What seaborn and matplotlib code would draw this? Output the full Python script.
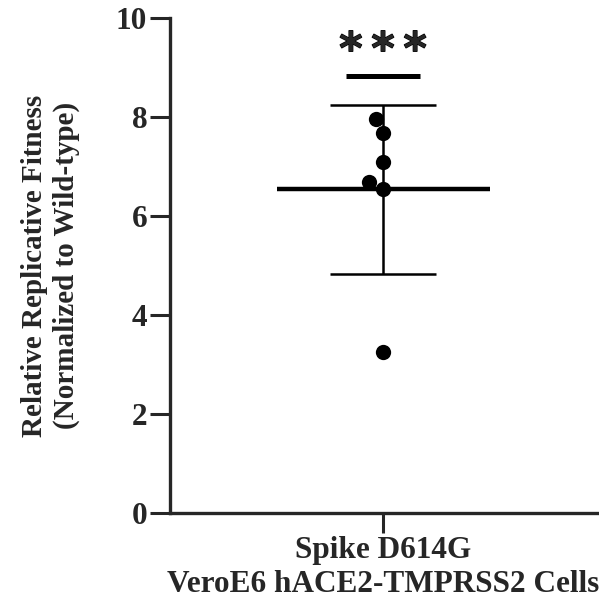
import numpy as np
import pandas as pd
import matplotlib
matplotlib.use("Agg")
import matplotlib.pyplot as plt
import matplotlib.patheffects as pe
import seaborn as sns

# ---- data ----
group_label = "Spike D614G\nVeroE6 hACE2-TMPRSS2 Cells"
fitness = [3.25, 6.55, 6.69, 7.09, 7.68, 7.96]
y_ticks = [0, 2, 4, 6, 8, 10]
sig_text = "*\u2009*\u2009*"
y_label = "Relative Replicative Fitness\n(Normalized to Wild-type)"

df = pd.DataFrame({"group": [group_label] * len(fitness), "fitness": fitness})

sns.set_style("ticks")
plt.rcParams["font.family"] = ["Liberation Serif", "DejaVu Serif"]
plt.rcParams["font.weight"] = "bold"

fig = plt.figure(figsize=(5.99, 6.08), dpi=100)
ax = fig.add_axes([170 / 599, 1 - 513 / 608, 429 / 599, 495 / 608])

sns.swarmplot(data=df, x="group", y="fitness", color="black", size=11,
              linewidth=0, ax=ax, zorder=3)

mean = np.mean(fitness)
sd = np.std(fitness, ddof=1)
# mean line
ax.hlines(mean, -0.25, 0.25, color="black", lw=3.2, zorder=4)
# SD error bar
ax.vlines(0, mean - sd, mean + sd, color="black", lw=1.8, zorder=2)
ax.hlines([mean - sd, mean + sd], -0.124, 0.124, color="black", lw=1.8, zorder=2)

# significance
ax.hlines(8.83, -0.088, 0.088, color="black", lw=3.6, clip_on=False)
ax.text(0, 9.33, sig_text, ha="center", va="center", fontsize=32,
        fontweight="bold", family=["DejaVu Sans"],
        path_effects=[pe.withStroke(linewidth=0.9, foreground="black")])

ax.set_ylim(0, 10)
ax.set_xlim(-0.5, 0.507)
ax.set_yticks(y_ticks)
ax.set_yticklabels([str(t) for t in y_ticks])

for s in ["top", "right"]:
    ax.spines[s].set_visible(False)
for s in ["left", "bottom"]:
    ax.spines[s].set_linewidth(2.4)

ax.tick_params(axis="both", length=14.4, width=2.2, labelsize=22.5, pad=2)
for lab in ax.get_xticklabels() + ax.get_yticklabels():
    lab.set_fontweight("bold")
for lab in ax.get_xticklabels():
    lab.set_linespacing(1.25)

ax.set_xlabel("")
ax.set_ylabel(y_label, fontsize=21, fontweight="bold", labelpad=26,
              linespacing=1.2)

fig.savefig("out.png", dpi=100)
